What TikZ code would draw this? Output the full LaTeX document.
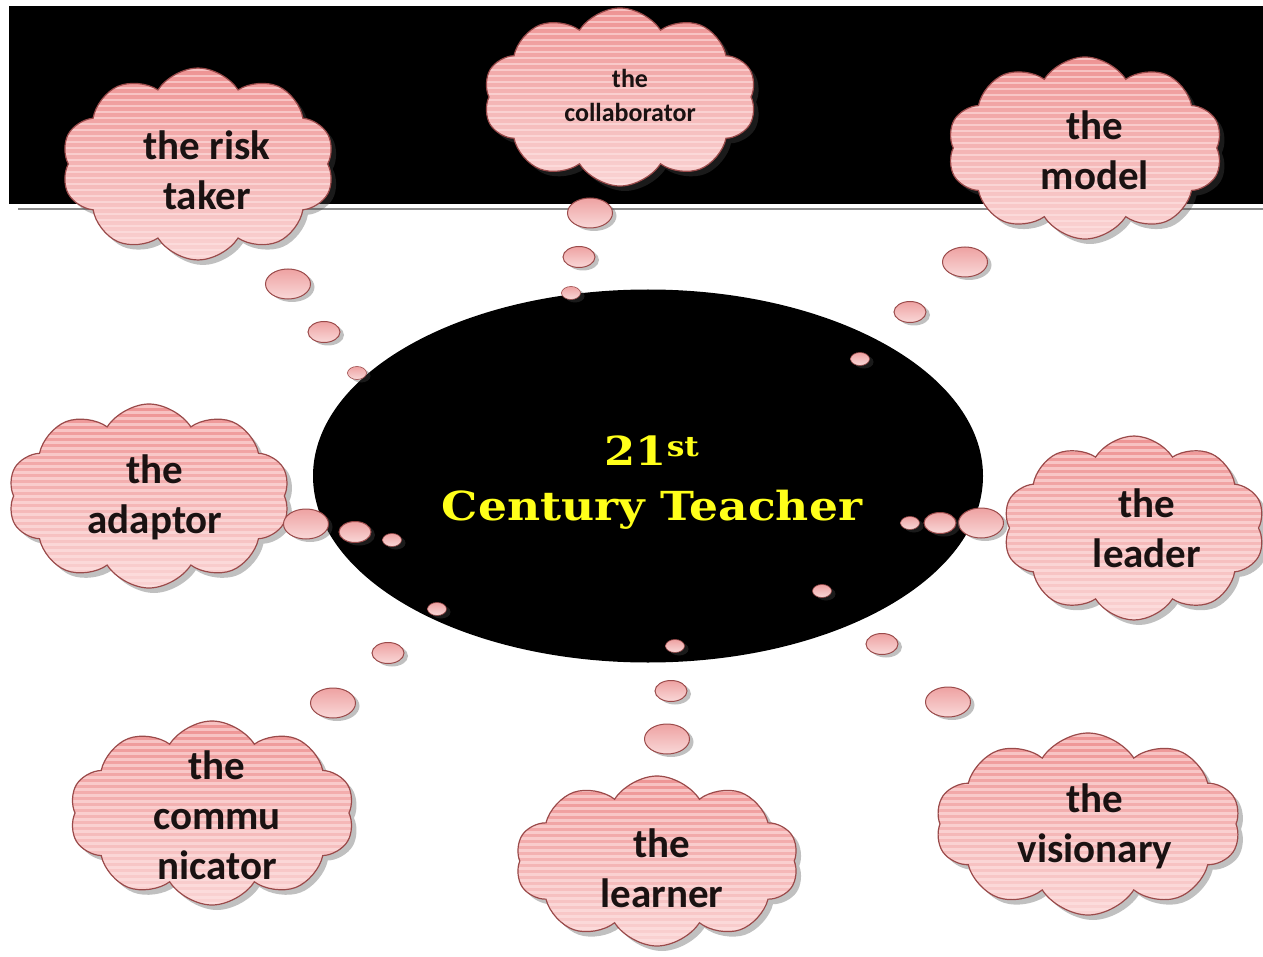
\documentclass[tikz,border=0pt]{standalone}
\usepackage{fontspec}
\setmainfont{Carlito}
\newfontfamily\titlefont{DejaVu Serif}
\usetikzlibrary{shapes.symbols,shapes.geometric,shadows,calc}
\definecolor{cloudtop}{HTML}{EE9494}
\definecolor{cloudbot}{HTML}{FAD4D4}
\definecolor{stripecol}{HTML}{FFE6E6}
\definecolor{cloudedge}{HTML}{9A4A4A}
\definecolor{bubtop}{HTML}{EEA2A2}
\definecolor{bubbot}{HTML}{F9D8D8}
\definecolor{titleyellow}{HTML}{FFFF1A}
\definecolor{rulegray}{HTML}{8C8C8C}
\definecolor{textcol}{HTML}{1A1212}
\tikzset{
  thought/.style={cloud, cloud puffs=10, cloud puff arc=115, cloud ignores aspect,
    draw=cloudedge, line width=1.2pt, top color=cloudtop, bottom color=cloudbot,
    drop shadow={shadow xshift=5pt, shadow yshift=-5pt, opacity=0.35, fill=black!70},
    inner sep=0pt,
    path picture={\foreach \k in {0,...,40}{\fill[stripecol, opacity=0.55]
      ($(path picture bounding box.north west)+(0,-\k*6pt-1pt)$) rectangle
      ($(path picture bounding box.north east)+(0,-\k*6pt-3.5pt)$);}}},
  ctext/.style={align=center, text=textcol, inner sep=0pt,
    font=\bfseries\fontsize{41pt}{50pt}\selectfont},
  bubble/.style={ellipse, draw=cloudedge, line width=1pt, top color=bubtop, bottom color=bubbot,
    inner sep=0pt,
    drop shadow={shadow xshift=4pt, shadow yshift=-3pt, opacity=0.35, fill=black!70}},
  hub/.style={ellipse, fill=black, inner sep=0pt, minimum width=670pt, minimum height=373pt},
  big/.style={bubble, minimum width=45pt, minimum height=30pt},
  mid/.style={bubble, minimum width=32pt, minimum height=21pt},
  small/.style={bubble, minimum width=19pt, minimum height=13pt, line width=0.6pt},
}
\begin{document}
\begin{tikzpicture}[x=1pt,y=-1pt]
\useasboundingbox (0,0) rectangle (1263,957);
\fill[white] (0,0) rectangle (1263,957);
% top band
\fill[black] (9,6) rectangle (1263,204);
\draw[rulegray, line width=2pt] (18,209.5) -- (1263,209.5);

% hub
\node[hub] (hub) at (648,476) {};
\node[inner sep=0pt, text=titleyellow, align=center,
      font=\titlefont\bfseries\fontsize{40pt}{55pt}\selectfont] (title) at (652,483)
      {\scalebox{1.12}[1]{21\textsuperscript{st}}\\\scalebox{1.14}[1]{Century Teacher}};

% clouds
\node[thought, minimum width=273pt, minimum height=192pt] (risk) at (198,164) {};
\node[thought, minimum width=273pt, minimum height=178pt] (collab) at (620,97) {};
\node[thought, minimum width=275pt, minimum height=182pt] (model) at (1085,148) {};
\node[thought, minimum width=282pt, minimum height=184pt] (adapt) at (149,496) {};
\node[thought, minimum width=262pt, minimum height=184pt] (lead) at (1134,528) {};
\node[thought, minimum width=285pt, minimum height=184pt] (comm) at (212,813) {};
\node[thought, minimum width=283pt, minimum height=170pt] (learn) at (657,861) {};
\node[thought, minimum width=305pt, minimum height=182pt] (vision) at (1088,824) {};

\node[ctext] (risk-t) at (207,170) {the risk\\taker};
\node[ctext, font=\bfseries\fontsize{26pt}{34pt}\selectfont] (collab-t) at (630,95) {the\\collaborator};
\node[ctext] (model-t) at (1095,150) {the\\model};
\node[ctext] (adapt-t) at (155,497) {the\\adaptor};
\node[ctext] (lead-t) at (1147,528) {the\\leader};
\node[ctext] (comm-t) at (217,815) {the\\commu\\nicator};
\node[ctext] (learn-t) at (662,868) {the\\learner};
\node[ctext] (vision-t) at (1095,826) {the\\visionary};

% thought bubbles
\node[big] (r1) at (288,284) {};
\node[mid] (r2) at (324,332) {};
\node[small] (r3) at (357,373) {};

\node[big] (c1) at (590,213) {};
\node[mid] (c2) at (579,257) {};
\node[small] (c3) at (571,293) {};

\node[big] (m1) at (965,262) {};
\node[mid] (m2) at (910,312) {};
\node[small] (m3) at (860,359) {};

\node[big] (a1) at (306,524) {};
\node[mid] (a2) at (355,532) {};
\node[small] (a3) at (392,540) {};

\node[big] (l1) at (981,523) {};
\node[mid] (l2) at (940,523) {};
\node[small] (l3) at (910,523) {};

\node[big] (k1) at (333,703) {};
\node[mid] (k2) at (388,653) {};
\node[small] (k3) at (437,609) {};

\node[big] (n1) at (667,739) {};
\node[mid] (n2) at (671,691) {};
\node[small] (n3) at (675,646) {};

\node[big] (v1) at (948,702) {};
\node[mid] (v2) at (882,644) {};
\node[small] (v3) at (822,591) {};
\end{tikzpicture}
\end{document}
